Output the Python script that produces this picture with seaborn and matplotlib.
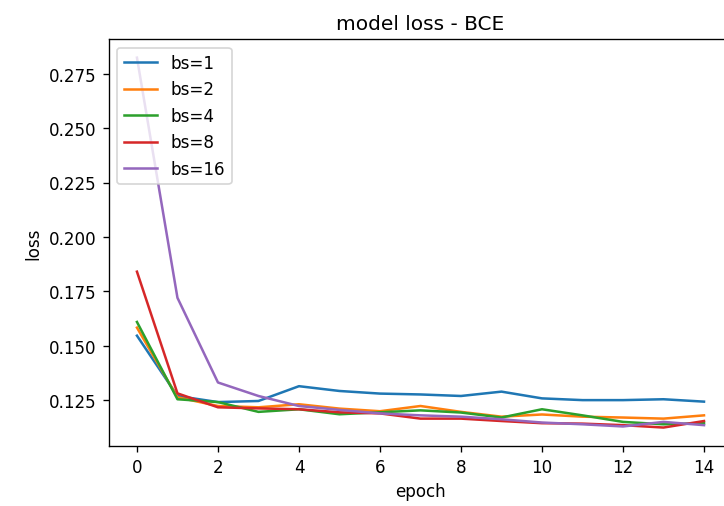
import numpy as np
import pandas as pd
import matplotlib
matplotlib.use("Agg")
import matplotlib.pyplot as plt
import seaborn as sns

# Validation loss per epoch for each batch size
epochs = list(range(15))
bs1 = [0.1547, 0.1270, 0.1242, 0.1247, 0.1315, 0.1293, 0.1281, 0.1277, 0.1270, 0.1290, 0.1259, 0.1251, 0.1251, 0.1255, 0.1244]
bs2 = [0.1584, 0.1264, 0.1224, 0.1218, 0.1232, 0.1212, 0.1200, 0.1224, 0.1197, 0.1175, 0.1185, 0.1175, 0.1171, 0.1166, 0.1181]
bs4 = [0.1610, 0.1255, 0.1242, 0.1197, 0.1209, 0.1186, 0.1195, 0.1204, 0.1194, 0.1171, 0.1209, 0.1181, 0.1151, 0.1140, 0.1145]
bs8 = [0.1841, 0.1282, 0.1218, 0.1213, 0.1209, 0.1195, 0.1190, 0.1166, 0.1166, 0.1155, 0.1145, 0.1143, 0.1136, 0.1125, 0.1155]
bs16 = [0.2824, 0.1721, 0.1332, 0.1270, 0.1224, 0.1206, 0.1190, 0.1181, 0.1175, 0.1163, 0.1148, 0.1140, 0.1130, 0.1151, 0.1136]
series_labels = ["bs=1", "bs=2", "bs=4", "bs=8", "bs=16"]
series_values = [bs1, bs2, bs4, bs8, bs16]

df = pd.concat(
    [pd.DataFrame({"epoch": epochs, "loss": vals, "run": lab})
     for lab, vals in zip(series_labels, series_values)],
    ignore_index=True,
)

fig = plt.figure(figsize=(6.0, 4.2), dpi=120.67)
ax = fig.add_axes([0.15, 0.1183, 0.8615, 0.8028])

sns.lineplot(data=df, x="epoch", y="loss", hue="run", hue_order=series_labels,
             palette=sns.color_palette("tab10", 5), legend=False, ax=ax,
             linewidth=1.5)

ax.set_title("model loss - BCE")
ax.set_xlabel("epoch")
ax.set_ylabel("loss")
ax.legend(ax.lines, series_labels, loc="upper left")

fig.savefig("out.png", dpi=120.67)
